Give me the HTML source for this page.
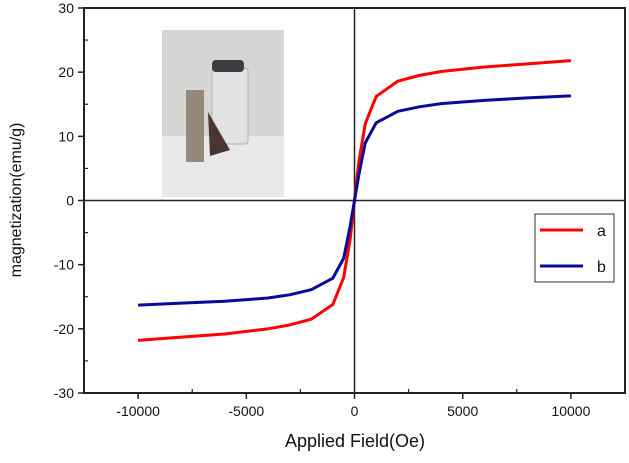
<!DOCTYPE html>
<html><head><meta charset="utf-8"><style>
body{margin:0;background:#fff;}
svg text{font-family:"Liberation Sans",sans-serif;}
</style></head><body>
<svg width="629" height="458" xmlns="http://www.w3.org/2000/svg">
<rect x="84" y="8" width="541" height="385" fill="none" stroke="#222" stroke-width="2"/>
<g>
<rect x="162" y="30" width="122" height="167" fill="#d6d6d4"/>
<rect x="162" y="136" width="122" height="61" fill="#e8e8e8"/>
<rect x="186" y="90" width="18" height="72" fill="#948a7c"/>
<rect x="212" y="68" width="36" height="76" rx="3" fill="#e2e2e2" stroke="#b0b0b0" stroke-width="1"/>
<rect x="212" y="60" width="32" height="12" rx="4" fill="#3a3e42"/>
<polygon points="208,112 230,150 210,156" fill="#4a3630"/>
</g>
<g id="axes"></g>
<g id="series"></g>
<text x="355" y="447" text-anchor="middle" font-size="18" fill="#111">Applied Field(Oe)</text>
<text transform="translate(21,200) rotate(-90)" text-anchor="middle" font-size="16" fill="#111">magnetization(emu/g)</text>
<g>
<rect x="535" y="214" width="79" height="68" fill="#fff" stroke="#333" stroke-width="1"/>
<line x1="540" y1="230" x2="583" y2="230" stroke="#f00" stroke-width="3"/>
<text x="597" y="236" font-size="16" fill="#111">a</text>
<line x1="540" y1="266" x2="583" y2="266" stroke="#0a0a9a" stroke-width="3"/>
<text x="597" y="272" font-size="16" fill="#111">b</text>
</g>
</svg>
<script>
const fields = [-10000,-8000,-6000,-4000,-3000,-2000,-1000,-500,-200,0,200,500,1000,2000,3000,4000,6000,8000,10000];
const seriesA = [-21.8,-21.3,-20.8,-20.0,-19.4,-18.5,-16.2,-12,-6,0,6,12,16.2,18.6,19.5,20.1,20.8,21.3,21.8];
const seriesB = [-16.3,-16.0,-15.7,-15.2,-14.7,-13.9,-12.1,-9,-4,0,4,9,12.1,13.9,14.6,15.1,15.6,16.0,16.3];
const xTicks = [-10000,-5000,0,5000,10000];
const xMinor = [-7500,-2500,2500,7500];
const yTicks = [-30,-20,-10,0,10,20,30];
const yMinor = [-25,-15,-5,5,15,25];
const NS='http://www.w3.org/2000/svg';
const X=v=>354.5+v*(625-84)/25000;
const Y=v=>200.5-v*(385/60);
const axes=document.getElementById('axes');
function mk(t,a,p){const e=document.createElementNS(NS,t);for(const k in a)e.setAttribute(k,a[k]);p.appendChild(e);return e;}
let zx=mk('line',{x1:X(0),x2:X(0),y1:8,y2:393,stroke:'#222','stroke-width':1.5},axes);


let zy=mk('line',{x1:84,x2:625,y1:Y(0),y2:Y(0),stroke:'#222','stroke-width':1.5},axes);


xTicks.forEach(v=>{
 mk('line',{x1:X(v),x2:X(v),y1:393,y2:399,stroke:'#222','stroke-width':1.5},axes);
 const t=mk('text',{x:X(v),y:416,'text-anchor':'middle','font-size':14,fill:'#111'},axes);
 t.textContent=v;
 
 
});
xMinor.forEach(v=>mk('line',{x1:X(v),x2:X(v),y1:389,y2:393,stroke:'#222','stroke-width':1.2},axes));
yTicks.forEach(v=>{
 mk('line',{x1:78,x2:84,y1:Y(v),y2:Y(v),stroke:'#222','stroke-width':1.5},axes);
 const t=mk('text',{x:74,y:Y(v)+5,'text-anchor':'end','font-size':14,fill:'#111'},axes);
 t.textContent=v;
 
 
});
yMinor.forEach(v=>mk('line',{x1:84,x2:88,y1:Y(v),y2:Y(v),stroke:'#222','stroke-width':1.2},axes));
const sg=document.getElementById('series');
[[seriesA,'#f00','series-a-line'],[seriesB,'#0a0a9a','series-b-line']].forEach(([s,c,n])=>{
 const p=mk('polyline',{points:fields.map((f,i)=>X(f)+','+Y(s[i])).join(' '),fill:'none',stroke:c,'stroke-width':3,'stroke-linejoin':'round'},sg);
 
 
});
</script>
</body></html>
